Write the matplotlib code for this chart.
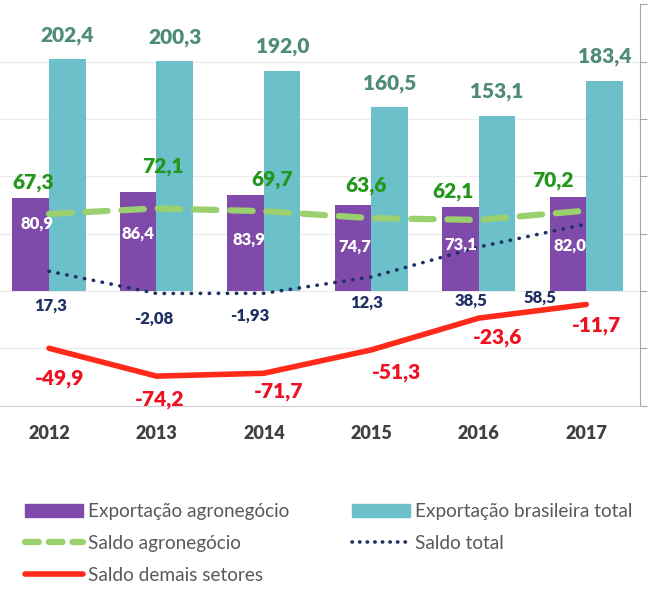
import matplotlib
matplotlib.use('Agg')
import matplotlib.pyplot as plt
from matplotlib.patches import Patch
from matplotlib.lines import Line2D
import numpy as np

plt.rcParams['font.family'] = ['Lato', 'DejaVu Sans']

anos = ['2012', '2013', '2014', '2015', '2016', '2017']
exp_agro = [80.9, 86.4, 83.9, 74.7, 73.1, 82.0]
exp_total = [202.4, 200.3, 192.0, 160.5, 153.1, 183.4]
saldo_agro = [67.3, 72.1, 69.7, 63.6, 62.1, 70.2]
saldo_total = [17.3, -2.08, -1.93, 12.3, 38.5, 58.5]
saldo_demais = [-49.9, -74.2, -71.7, -51.3, -23.6, -11.7]

lab_agro = ['80,9', '86,4', '83,9', '74,7', '73,1', '82,0']
lab_total = ['202,4', '200,3', '192,0', '160,5', '153,1', '183,4']
lab_saldo_agro = ['67,3', '72,1', '69,7', '63,6', '62,1', '70,2']
lab_saldo_total = ['17,3', '-2,08', '-1,93', '12,3', '38,5', '58,5']
lab_saldo_demais = ['-49,9', '-74,2', '-71,7', '-51,3', '-23,6', '-11,7']

# label offsets in pixels (manually placed in the original)
off_agro = [(6.5, -25.6), (0, -41.9), (3, -44.6), (2, -41.5), (0.5, -37.7), (2, -48.9)]
off_saldo_agro = [(-16, 31.5), (6.6, 41.5), (8.2, 31.7), (-5.7, 32.2), (-25.6, 27.9), (-33, 30.1)]
off_saldo_total = [(2, -34.2), (-3, -25), (-13.8, -22.7), (-5, -26), (-7.6, -54), (-46.5, -74)]
off_saldo_demais = [(10.5, -30.2), (3, -23.3), (14.7, -18.7), (24.8, -22.6), (18.4, -19.3), (10.5, -21)]

c_roxo = '#804AAA'
c_ciano = '#6BC0CA'
c_verde = '#9BD06E'
c_azul = '#1F3064'
c_vermelho = '#FF2A1A'

fig = plt.figure(figsize=(6.5, 5.92), dpi=100)
ax = fig.add_axes([-4.7/650, (592-405.7)/592, 644.7/650, 401.2/592])

x = np.arange(len(anos))
w = 0.34
ax.bar(x - w/2, exp_agro, w, color=c_roxo, zorder=2)
ax.bar(x + w/2, exp_total, w, color=c_ciano, zorder=2)

ax.plot(x, saldo_agro, color=c_verde, linewidth=4.5, linestyle=(0, (3.6, 2.2)),
        dash_capstyle='round', zorder=3)
ax.plot(x, saldo_total, color=c_azul, linewidth=2.6, linestyle=(0, (0.1, 2.4)),
        dash_capstyle='round', zorder=3)
ax.plot(x, saldo_demais, color=c_vermelho, linewidth=4, solid_capstyle='round', zorder=3)

for i in range(len(anos)):
    ax.annotate(lab_total[i], (x[i] + w/2, exp_total[i]), xytext=(0, 24),
                textcoords='offset pixels', ha='center', va='center',
                fontsize=15, fontweight='heavy', color='#4E8C77', zorder=5)
    ax.annotate(lab_agro[i], (x[i] - w/2, exp_agro[i]), xytext=off_agro[i],
                textcoords='offset pixels', ha='center', va='center',
                fontsize=12, fontweight='heavy', color='white', zorder=5)
    ax.annotate(lab_saldo_agro[i], (x[i], saldo_agro[i]), xytext=off_saldo_agro[i],
                textcoords='offset pixels', ha='center', va='center',
                fontsize=15, fontweight='heavy', color='#23961C', zorder=5)
    ax.annotate(lab_saldo_total[i], (x[i], saldo_total[i]), xytext=off_saldo_total[i],
                textcoords='offset pixels', ha='center', va='center',
                fontsize=12, fontweight='heavy', color=c_azul, zorder=5)
    ax.annotate(lab_saldo_demais[i], (x[i], saldo_demais[i]), xytext=off_saldo_demais[i],
                textcoords='offset pixels', ha='center', va='center',
                fontsize=15, fontweight='heavy', color='#EE1122', zorder=5)

ax.set_xlim(-0.5, 5.5)
ax.set_ylim(-100, 250)
ax.set_yticks(np.arange(-100, 251, 50))
ax.yaxis.tick_right()
ax.tick_params(axis='y', direction='out', length=5, color='#A6A6A6', labelright=False)
ax.grid(axis='y', color='#ECECEC', linewidth=1, zorder=0)
ax.set_axisbelow(True)
ax.set_xticks(x)
ax.set_xticklabels(anos, fontsize=13, fontweight='heavy', color='#404040')
ax.tick_params(axis='x', length=0, pad=14)
ax.spines['top'].set_visible(False)
ax.spines['left'].set_visible(False)
ax.spines['right'].set_color('#A6A6A6')
ax.spines['bottom'].set_color('#D0D0D0')

handles = [Patch(color=c_roxo), Line2D([], [], color=c_verde, linewidth=4.5, linestyle=(0, (2.2, 1.6)), dash_capstyle='round'),
           Line2D([], [], color=c_vermelho, linewidth=4, solid_capstyle='round'),
           Patch(color=c_ciano), Line2D([], [], color=c_azul, linewidth=2.6, linestyle=(0, (0.1, 2.0)), dash_capstyle='round')]
labels = ['Exportação agronegócio', 'Saldo agronegócio', 'Saldo demais setores',
          'Exportação brasileira total', 'Saldo total']
fig.legend(handles, labels, ncol=2, loc='upper left', bbox_to_anchor=(25/650, 1 - 503/592),
           frameon=False, fontsize=13.7, handlelength=3.05, handletextpad=0.26,
           columnspacing=3.3, labelspacing=0.79, labelcolor='#595959', borderpad=0,
           borderaxespad=0)

plt.savefig('out.png', dpi=100)
